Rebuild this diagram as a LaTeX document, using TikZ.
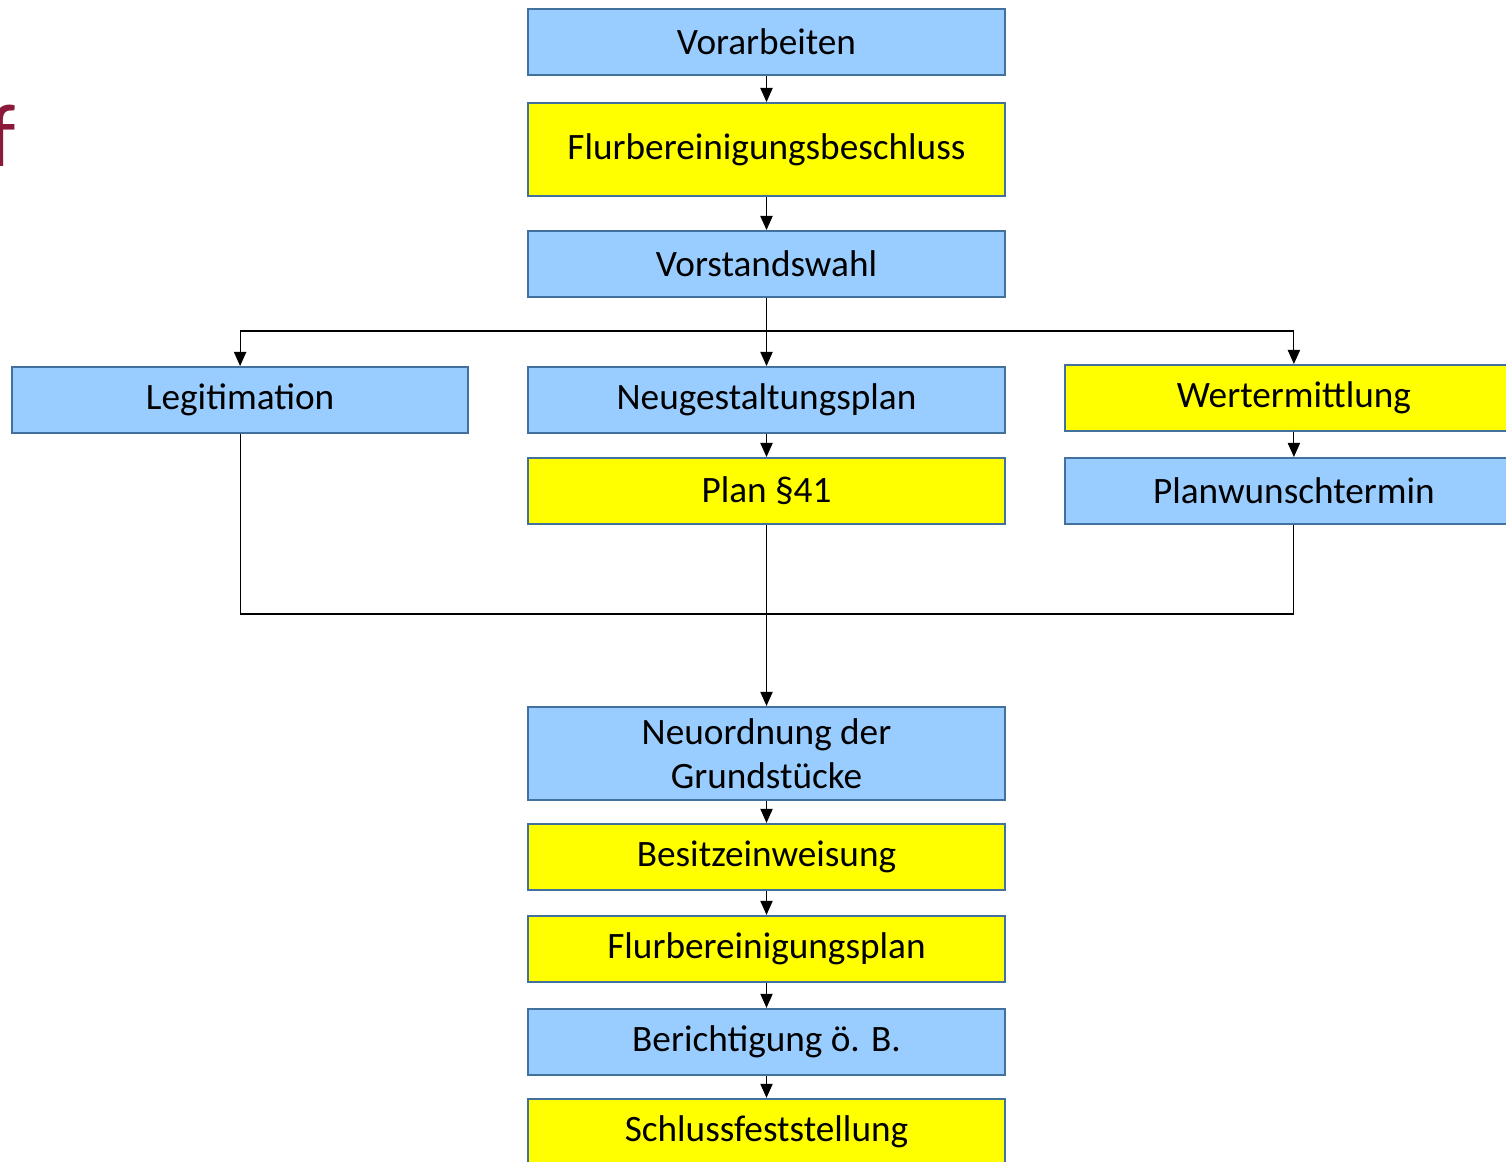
\documentclass[tikz,border=0pt]{standalone}
\usepackage{fontspec}
\setmainfont{Carlito}
\usetikzlibrary{arrows.meta}
\definecolor{hellblau}{RGB}{153,204,255}
\definecolor{randblau}{RGB}{65,113,156}
\definecolor{titelrot}{RGB}{139,26,58}
\definecolor{gelbton}{RGB}{255,255,0}
\tikzstyle{every picture}=[node distance=2cm, >={Triangle[length=8pt,width=7pt]}, line width=0.6pt]
\tikzstyle{kasten}=[draw=randblau, line width=1.1pt, minimum width=9.54cm, minimum height=1.32cm,%
	align=center, font=\fontsize{21.2}{25}\selectfont, inner sep=2pt]
\tikzstyle{blau}=[kasten, fill=hellblau]
\tikzstyle{gelb}=[kasten, fill=gelbton]

\begin{document}
\begin{tikzpicture}[x=0.02cm, y=-0.02cm]
	\useasboundingbox (0,0) rectangle (1506,1161);
	\node[anchor=base east, inner sep=0pt, text=titelrot, font=\fontsize{51}{51}\selectfont] (T) at (16,166) {f};
	\node[blau] (V) at (766.5,42) {Vorarbeiten};
	\node[gelb, minimum height=1.86cm] (FB) [below of=V, node distance=2.15cm] {Flurbereinigungsbeschluss};
	\node[blau] (VW) [below of=FB, node distance=2.29cm] {Vorstandswahl};
	\node[blau] (N) [below of=VW, node distance=2.72cm] {Neugestaltungsplan};
	\node[blau, minimum width=9.12cm] (L) [left of=N, node distance=10.53cm] {Legitimation};
	\node[gelb, minimum width=9.16cm, yshift=0.04cm] (W) [right of=N, node distance=10.55cm] {Wertermittlung};
	\node[gelb] (P41) [below of=N, node distance=1.82cm] {Plan §41};
	\node[blau, minimum width=9.16cm] (PW) [below of=W, node distance=1.86cm] {Planwunschtermin};
	\node[blau, minimum height=1.86cm] (NO) [below of=P41, node distance=5.25cm] {Neuordnung der\\Grundstücke};
	\node[gelb] (BE) [below of=NO, node distance=2.07cm] {Besitzeinweisung};
	\node[gelb] (FP) [below of=BE, node distance=1.84cm] {Flurbereinigungsplan};
	\node[blau] (BO) [below of=FP, node distance=1.86cm] {Berichtigung ö. B.};
	\node[gelb] (SF) [below of=BO, node distance=1.80cm] {Schlussfeststellung};
	% Verzweigung und Zusammenfuehrung
	\coordinate (split) at (766.5,331);
	\coordinate (merge) at (766.5,614);
	\draw (V) edge[->] (FB) (FB) edge[->] (VW) (VW) edge[->] (N);
	\draw[->] (split) -| (L);
	\draw[->] (split) -| (W);
	\draw (N) edge[->] (P41) (W) edge[->] (PW);
	\draw (L) |- (merge) (PW) |- (merge) (P41) -- (merge);
	\draw (merge) edge[->] (NO);
	\draw (NO) edge[->] (BE) (BE) edge[->] (FP) (FP) edge[->] (BO) (BO) edge[->] (SF);
\end{tikzpicture}
\end{document}
